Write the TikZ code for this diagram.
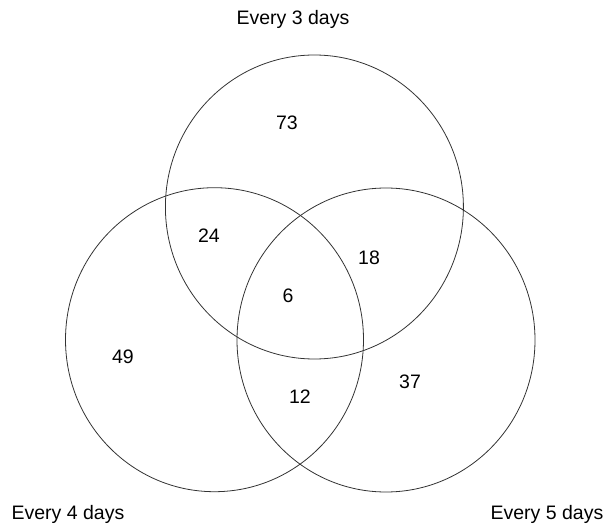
\documentclass[tikz,border=0pt]{standalone}
\usepackage{fontspec}
\setmainfont{Liberation Sans}
\usetikzlibrary{positioning}
\usetikzlibrary{shapes.geometric}

\begin{document}
\begin{tikzpicture}[
    set/.style={ellipse, draw=black!80, line width=0.8pt, minimum width=298pt, minimum height=304pt, inner sep=0pt},
    count/.style={inner sep=0pt, font=\fontsize{19.5}{23}\selectfont},
    setlabel/.style={inner sep=0pt, anchor=base, font=\fontsize{19.5}{23}\selectfont},
    x=1pt, y=1pt
]
    \useasboundingbox (0,0) rectangle (603,523);

    % --- Sets ---
    \node[set] (three) at (314.4, 316) {};
    \node[set] (four) at (214.5, 183.3) {};
    \node[set] (five) at (386, 183) {};

    % --- Set labels ---
    \node[setlabel] (lthree) at (293, 498) {Every 3 days};
    \node[setlabel] (lfour) at (68, 4) {Every 4 days};
    \node[setlabel] (lfive) at (547, 4) {Every 5 days};

    % --- Region counts ---
    \foreach \name/\x/\y/\n in {only3/287/400/73, both34/209/287/24, both35/369/265/18,
                                all/288/227/6, only4/123/166/49, both45/300/126/12, only5/410/141/37} {
        \node[count] (\name) at (\x, \y) {\n};
    }
\end{tikzpicture}
\end{document}
